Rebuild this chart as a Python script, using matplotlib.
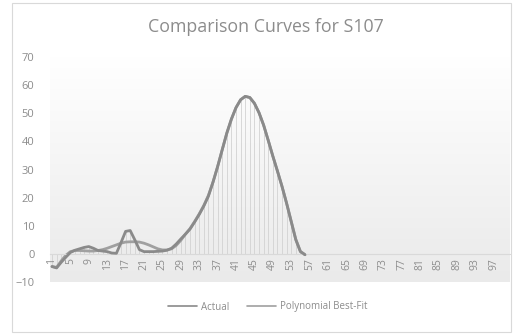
import matplotlib
matplotlib.use("Agg")
import matplotlib.pyplot as plt
import numpy as np
from matplotlib.patches import Rectangle
from matplotlib.colors import LinearSegmentedColormap

# ---- data ----
categories = list(range(1, 101))
tick_labels = [str(c) for c in range(1, 101, 4)]
actual = [-4.5, -5.0, -3.0, -1.2, 0.5, 1.3, 1.8, 2.3, 2.6, 2.0,
          1.2, 1.0, 0.8, 0.3, 0.2, 4.0, 8.0, 8.3, 5.0, 1.5,
          0.8, 0.8, 0.8, 0.9, 1.0, 1.3, 2.0, 3.5, 5.3, 7.0,
          8.8, 11.3, 14.0, 17.0, 20.5, 25.5, 31.0, 37.0, 43.0, 48.0,
          52.0, 54.8, 56.0, 55.6, 53.5, 50.2, 45.8, 40.4, 34.8, 29.5,
          24.0, 18.0, 11.5, 5.0, 0.8, -0.3]
poly = [-4.5, -4.8, -2.5, -0.5, 0.8, 1.2, 1.2, 1.1, 1.0, 1.0,
        1.2, 1.5, 2.0, 2.6, 3.2, 3.8, 4.2, 4.3, 4.3, 4.2,
        3.8, 3.2, 2.5, 1.8, 1.4, 1.4, 1.8, 3.0, 4.8, 7.0,
        9.0, 11.5, 14.2, 17.2, 20.8, 25.5, 31.0, 37.0, 42.8, 47.8,
        52.0, 54.8, 56.0, 55.6, 53.6, 50.2, 45.8, 40.4, 34.8, 29.5,
        24.0, 18.0, 11.6, 5.2, 0.9, -0.3]
title = "Comparison Curves for S107"
series_names = ["Actual", "Polynomial Best-Fit"]

W, H = 513, 334
fig = plt.figure(figsize=(W / 100, H / 100), dpi=100)
fig.patch.set_facecolor("white")
plt.rcParams['font.family'] = ['Open Sans', 'DejaVu Sans']

left_px, right_px = 49.7, 509.7
bot_px, top_px = 52, 277
ax = fig.add_axes([left_px / W, bot_px / H, (right_px - left_px) / W, (top_px - bot_px) / H])
ax.set_xlim(0.5, 100.5)
ax.set_ylim(-10, 70)

grad = np.linspace(1, 0, 256).reshape(-1, 1)
cm = LinearSegmentedColormap.from_list("g", ["#eaeaea", "#ffffff"])
ax.imshow(grad, extent=(0.5, 100.5, -10, 70), aspect="auto", cmap=cm, origin="upper",
          vmin=0, vmax=1, zorder=0)
ax.set_facecolor("white")

x_act = categories[:len(actual)]
x_pol = categories[:len(poly)]

ax.vlines(x_act, 0, actual, colors="#d2d2d2", linewidth=0.6, zorder=1)

ax.plot(x_act, actual, color="#8a8a8a", lw=2.0, solid_capstyle="round", solid_joinstyle="round",
        zorder=3, label=series_names[0])
ax.plot(x_pol, poly, color="#a0a0a0", lw=2.0, solid_capstyle="round", solid_joinstyle="round",
        zorder=2, label=series_names[1])

for s in ["left", "right", "top"]:
    ax.spines[s].set_visible(False)
ax.spines["bottom"].set_position(("data", 0))
ax.spines["bottom"].set_color("#d9d9d9")
ax.spines["bottom"].set_linewidth(0.8)

ax.set_yticks(range(-10, 71, 10))
ax.tick_params(axis="y", length=0, pad=11, labelsize=8, labelcolor="#8c8c8c")
ax.set_xticks(list(range(1, 101, 4)))
ax.set_xticklabels(tick_labels, rotation=90)
ax.tick_params(axis="x", length=0, pad=3, labelsize=7.5, labelcolor="#8c8c8c")

fig.text(266 / W, 1 - 27 / H, title, ha="center", va="center", fontsize=12.8, color="#8c8c8c")

leg = fig.legend(loc="center", bbox_to_anchor=(268 / W, 1 - 307 / H), ncol=2, frameon=False,
                 fontsize=7, handlelength=3.0, columnspacing=1.8, handletextpad=0.4)
for t in leg.get_texts():
    t.set_color("#8c8c8c")
for h in leg.legend_handles:
    h.set_linewidth(1.2)

fig.patches.append(Rectangle((12 / W, 2 / H), (511 - 12) / W, (331 - 2) / H, transform=fig.transFigure,
                             fill=False, edgecolor="#d9d9d9", lw=0.8))

fig.savefig("out.png", dpi=100)
